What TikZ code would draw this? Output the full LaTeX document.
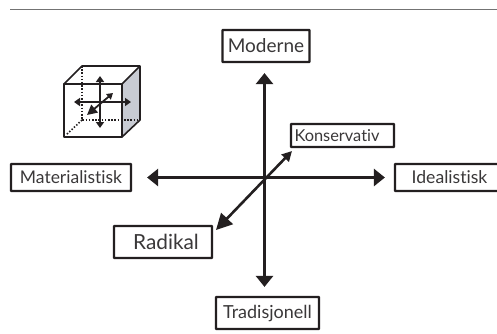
\documentclass[tikz,border=0pt]{standalone}
\usepackage{fontspec}
\setmainfont[Ligatures=NoCommon]{Lato}
\usetikzlibrary{arrows.meta}
\definecolor{ink}{HTML}{231F20}
\definecolor{txt}{HTML}{3A3839}
\definecolor{side}{HTML}{C8CBD3}
\tikzset{
 x=1pt,y=-1pt,
 box/.style={draw=ink,line width=2.2pt,fill=white,rounded corners=0.4pt,inner sep=0pt,text=txt,font=\fontsize{#1}{#1}\selectfont},
 axis/.style={draw=ink,line width=2.6pt,{Triangle[width=17pt,length=11pt]}-{Triangle[width=17pt,length=11pt]}},
 diag/.style={draw=ink,line width=2.6pt,{Triangle[width=16pt,length=16pt]}-{Triangle[width=10pt,length=10pt]}},
 edge/.style={draw=ink,line width=1.6pt,line join=round},
 hidden/.style={draw=ink,line width=1.6pt,dash pattern=on 1.5pt off 1.7pt},
 mini/.style={draw=ink,line width=1.8pt,{Triangle[width=8pt,length=6pt]}-{Triangle[width=8pt,length=6pt]}},
 minid/.style={draw=ink,line width=1.8pt,{Triangle[width=10pt,length=10pt]}-{Triangle[width=7pt,length=6pt]}},
}
\begin{document}
\begin{tikzpicture}
\useasboundingbox (0,0) rectangle (497,333);
\clip (0,0) rectangle (497,333);
\fill[white] (0,0) rectangle (497,333);
\draw[draw=gray!90!black,line width=1.4pt] (10,9.7) -- (497,9.7);

\node[box=19,minimum width=87pt,minimum height=32pt] (moderne) at (266,46) {Moderne};
\node[box=16.4,minimum width=103pt,minimum height=23pt,text width=96pt,align=left] (kons) at (342.5,135.5) {Konservativ};
\node[box=17.5,minimum width=120pt,minimum height=27pt] (mat) at (71,177.5) {Materialistisk};
\node[box=17.6,minimum width=120pt,minimum height=27pt] (ideal) at (455,177.5) {Idealistisk\hspace*{11pt}};
\node[box=20.8,minimum width=98pt,minimum height=32pt] (rad) at (163,242) {\hspace*{6pt}Radikal};
\node[box=18,minimum width=103pt,minimum height=32pt] (trad) at (267.5,313) {Tradisjonell};

\coordinate (c) at (264.5,177.5);
\coordinate (dl) at (216,230);
\coordinate (dr) at (292,151);
\draw[axis,shorten <=10pt,shorten >=9pt] (c |- moderne.south) -- (c |- trad.north);
\draw[axis,shorten <=15pt,shorten >=9pt] (mat.east) -- (ideal.west);
\draw[diag] (dl) -- (dr);

% cube
\fill[side] (122,84) -- (140,66) -- (140,120) -- (122,137) -- cycle;
\draw[hidden] (82,66) -- (82,120) -- (140,120);
\draw[hidden] (82,120) -- (66,135);
\draw[edge] (64,84) rectangle (122,137);
\draw[edge] (64,84) -- (82,66) -- (140,66) -- (122,84);
\draw[edge] (140,66) -- (140,120) -- (122,137);
\draw[mini] (100,76) -- (100,128);
\draw[mini] (74,102) -- (131,102);
\draw[minid] (87,115) -- (113,93);
\end{tikzpicture}
\end{document}
